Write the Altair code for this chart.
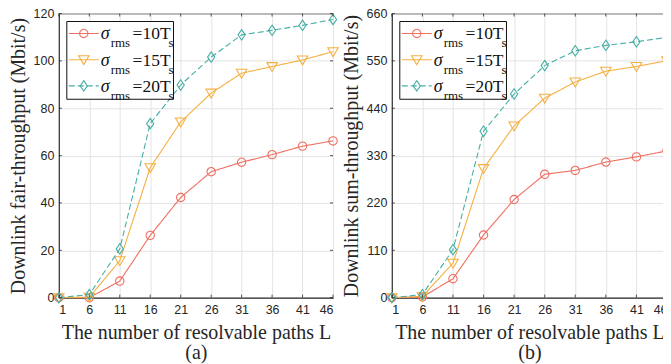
import altair as alt
import pandas as pd

# ---------------- data ----------------
L = [1, 6, 11, 16, 21, 26, 31, 36, 41, 46]
series = ["10", "15", "20"]

fair_10 = [0, 0.0, 7.0, 26.3, 42.3, 53.2, 57.2, 60.4, 64.0, 66.2]
fair_15 = [0, 0.2, 15.6, 54.9, 74.2, 86.4, 94.8, 97.6, 100.4, 103.9]
fair_20 = [0, 1.3, 20.6, 73.5, 89.8, 101.6, 111.0, 112.9, 115.0, 117.5]

sum_10 = [0, 1.5, 44.0, 145.5, 228.0, 286.5, 295.5, 315.0, 327.0, 341.0]
sum_15 = [0, 3.0, 80.0, 300.0, 399.0, 463.5, 501.0, 526.0, 537.0, 550.5]
sum_20 = [0, 7.0, 111.5, 386.5, 473.0, 539.0, 573.5, 586.0, 594.5, 604.5]

fair_ticks = [0, 20, 40, 60, 80, 100, 120]
sum_ticks = [0, 110, 220, 330, 440, 550, 660]

# ---------------- style ----------------
colors = ["#EF6F61", "#F5B042", "#46AFA6"]
shapes = ["circle", "M-1,-0.75L1,-0.75L0,0.95Z", "M0,-1.05L0.72,0L0,1.05L-0.72,0Z"]
sizes = [70, 110, 100]
dashes = [[1, 0], [1, 0], [6, 3]]
TXT = "#262626"
SERIF = "Liberation Serif"
SANS = "Liberation Sans"
H = 285


def panel(vals, ticks, ytitle, sub, width):
    ymax = ticks[-1]
    xs = alt.Scale(domain=[1, 46], nice=False, zero=False)
    ys = alt.Scale(domain=[0, ymax], nice=False)
    x_axis = alt.Axis(values=L, grid=True, gridColor="#E3E3E3", ticks=False, labelOverlap=False,
                      labelFont=SANS, labelFontSize=12.5, labelColor=TXT, labelPadding=6,
                      domainColor=TXT, title=["The number of resolvable paths L", sub],
                      titleFont=SERIF, titleFontSize=20, titleFontWeight="normal",
                      titleColor=TXT, titlePadding=6, titleLineHeight=21)
    y_axis = alt.Axis(values=ticks, grid=True, gridColor="#E3E3E3", ticks=False, labelOverlap=False,
                      labelFont=SANS, labelFontSize=12.5, labelColor=TXT, labelPadding=5,
                      domainColor=TXT, title=ytitle,
                      titleFont=SERIF, titleFontSize=20, titleFontWeight="normal",
                      titleColor=TXT, titlePadding=5)
    x_enc = alt.X("L:Q", scale=xs, axis=x_axis)
    y_enc = alt.Y("y:Q", scale=ys, axis=y_axis)

    layers = []
    for i, v in enumerate(vals):
        d = pd.DataFrame({"L": L, "y": v})
        layers.append(alt.Chart(d).mark_line(color=colors[i], strokeWidth=1.1,
                                             strokeDash=dashes[i]).encode(x=x_enc, y=y_enc))
        layers.append(alt.Chart(d).mark_point(shape=shapes[i], size=sizes[i], color=colors[i],
                                              filled=False, strokeWidth=1.1, opacity=1
                                              ).encode(x=x_enc, y=y_enc))

    # inward ticks (MATLAB style), positioned through the same scales
    tdx = pd.DataFrame({"L": L})
    tdy = pd.DataFrame({"y": ticks})
    layers.append(alt.Chart(tdx).mark_rule(color=TXT, strokeWidth=0.8).encode(
        x=x_enc, y=alt.value(H), y2=alt.value(H - 3)))
    layers.append(alt.Chart(tdx).mark_rule(color=TXT, strokeWidth=0.8).encode(
        x=x_enc, y=alt.value(0), y2=alt.value(3)))
    layers.append(alt.Chart(tdy).mark_rule(color=TXT, strokeWidth=0.8).encode(
        y=y_enc, x=alt.value(0), x2=alt.value(3)))
    layers.append(alt.Chart(tdy).mark_rule(color=TXT, strokeWidth=0.8).encode(
        y=y_enc, x=alt.value(width - 3), x2=alt.value(width)))

    one = alt.Data(values=[{"a": 1}])
    layers.append(alt.Chart(one).mark_rect(fill="white", stroke="#111111", strokeWidth=1).encode(
        x=alt.value(8), x2=alt.value(115), y=alt.value(8), y2=alt.value(86)))
    for i, name in enumerate(series):
        ry = 20 + 26.3 * i
        layers.append(alt.Chart(one).mark_rule(color=colors[i], strokeWidth=1.1,
                                               strokeDash=dashes[i]).encode(
            x=alt.value(10), x2=alt.value(40), y=alt.value(ry)))
        layers.append(alt.Chart(one).mark_point(shape=shapes[i], size=sizes[i], color=colors[i],
                                                filled=False, strokeWidth=1.1, opacity=1).encode(
            x=alt.value(25), y=alt.value(ry)))
        layers.append(alt.Chart(one).mark_text(text="σ", align="left", baseline="alphabetic",
                                               font=SERIF, fontStyle="italic", fontSize=18,
                                               color="#111111").encode(
            x=alt.value(42), y=alt.value(ry + 6)))
        layers.append(alt.Chart(one).mark_text(text="rms", align="left", baseline="alphabetic",
                                               font=SERIF, fontSize=13, color="#111111").encode(
            x=alt.value(52), y=alt.value(ry + 14)))
        layers.append(alt.Chart(one).mark_text(text="=" + name + "T", align="left",
                                               baseline="alphabetic", font=SERIF, fontSize=17.5,
                                               color="#111111").encode(
            x=alt.value(74), y=alt.value(ry + 6)))
        layers.append(alt.Chart(one).mark_text(text="s", align="left", baseline="alphabetic",
                                               font=SERIF, fontSize=13, color="#111111").encode(
            x=alt.value(110), y=alt.value(ry + 14)))
    return alt.layer(*layers).properties(width=width, height=H)


left = panel([fair_10, fair_15, fair_20], fair_ticks, "Downlink fair-throughput (Mbit/s)", "(a)", 275)
right = panel([sum_10, sum_15, sum_20], sum_ticks, "Downlink sum-throughput (Mbit/s)", "(b)", 276)

chart = alt.hconcat(left, right, spacing=59, bounds="flush").properties(
    padding={"left": -1, "top": -2, "right": -12, "bottom": 0}
).configure_view(stroke=TXT, strokeWidth=1).configure_axis(labelOverlap=False)

chart.save("out.html", embed_options={"renderer": "svg", "actions": False})
